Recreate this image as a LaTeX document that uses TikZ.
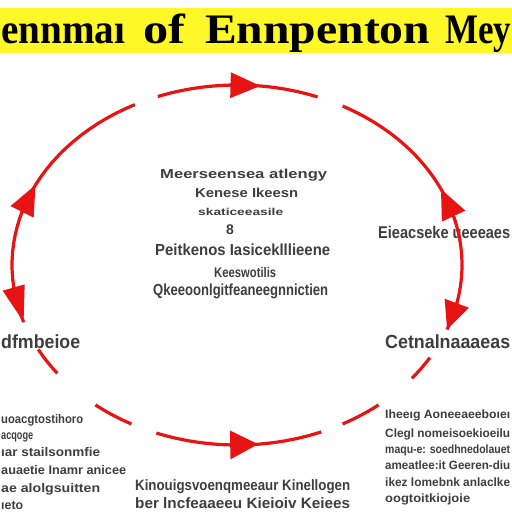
\documentclass[tikz,border=0pt]{standalone}
\usepackage{fontspec}
\setmainfont{Liberation Serif}
\setsansfont{Liberation Sans}
\usetikzlibrary{arrows.meta}
\definecolor{banner}{RGB}{255,248,40}
\definecolor{cyc}{RGB}{232,20,20}
\definecolor{ink}{RGB}{62,62,62}
\newcommand{\fitw}[2]{\resizebox{#1}{\height}{#2}}
\newcommand{\ellpt}[2]{\coordinate (#1) at ({237+225*cos(#2)},{265+180*sin(#2)});}
\newcommand{\ellseg}[2]{\draw[cycline] plot[domain=#1:#2,samples=30,variable=\t] ({237+225*cos(\t)},{265+180*sin(\t)});}
\tikzset{
  cycline/.style={draw=cyc,line width=3.2pt},
  tipA/.style={draw=cyc,line width=3.2pt,-{Triangle[length=30pt,width=25pt]}},
  txt/.style={inner sep=0pt,anchor=base west,text=ink,font=\sffamily\bfseries},
  ttl/.style={inner sep=0pt,anchor=base west,text=black,font=\fontsize{42}{42}\selectfont\bfseries},
}
\begin{document}
\begin{tikzpicture}[x=1pt,y=-1pt]
\useasboundingbox (0,0) rectangle (512,512);
\clip (0,0) rectangle (512,512);
\fill[white] (0,0) rectangle (512,512);
\fill[banner] (0,8) rectangle (512,53);
% title
\node[ttl] (t1) at (1,43) {\fitw{124pt}{ennmaı}};
\node[ttl] (t2) at (143,43) {\fitw{42pt}{of}};
\node[ttl] (t3) at (205,43) {\fitw{225pt}{Ennpenton}};
\node[ttl] (t4) at (445,43) {\fitw{66pt}{Mey}};
% centre text
\node[txt,font=\sffamily\bfseries\fontsize{13}{13}\selectfont] (c1) at (160,178) {\fitw{167pt}{Meerseensea atlengy}};
\node[txt,font=\sffamily\bfseries\fontsize{13}{13}\selectfont] (c2) at (195,197) {\fitw{103pt}{Kenese Ikeesn}};
\node[txt,font=\sffamily\bfseries\fontsize{10}{10}\selectfont] (c3) at (198,215) {\fitw{85pt}{skaticeeasile}};
\node[txt,font=\sffamily\bfseries\fontsize{14}{14}\selectfont] (c4) at (226,234) {8};
\node[txt,font=\sffamily\bfseries\fontsize{16}{16}\selectfont] (c5) at (155,255) {\fitw{175pt}{Peitkenos Iasiceklllieene}};
\node[txt,font=\sffamily\bfseries\fontsize{14}{14}\selectfont] (c6) at (214,277) {\fitw{62pt}{Keeswotilis}};
\node[txt,font=\sffamily\bfseries\fontsize{16}{16}\selectfont] (c7) at (153,295) {\fitw{175pt}{Qkeeoonlgitfeaneegnnictien}};
% side labels
\node[txt,font=\sffamily\bfseries\fontsize{17}{17}\selectfont] (r1) at (378,238) {\fitw{132pt}{Eieacseke ueeeaes}};
\node[txt,font=\sffamily\bfseries\fontsize{19}{19}\selectfont] (l1) at (1,348) {\fitw{79pt}{dfmbeioe}};
\node[txt,font=\sffamily\bfseries\fontsize{19}{19}\selectfont] (r2) at (385,348) {\fitw{125pt}{Cetnalnaaaeas}};
% bottom-left block
\begin{scope}[every node/.style={txt,font=\sffamily\bfseries\fontsize{12.5}{12.5}\selectfont}]
\node (bl1) at (1,423) {\fitw{82pt}{uoacgtostihoro}};
\node (bl2) at (1,439) {\fitw{32pt}{acqoge}};
\node (bl3) at (1,456) {\fitw{99pt}{ıar stailsonmfie}};
\node (bl4) at (1,474) {\fitw{125pt}{auaetie Inamr anicee}};
\node (bl5) at (1,492) {\fitw{99pt}{ae alolgsuitten}};
\node (bl6) at (1,509) {\fitw{22pt}{ıeto}};
\end{scope}
% bottom-right block
\begin{scope}[every node/.style={txt,font=\sffamily\bfseries\fontsize{12}{12}\selectfont}]
\node (br1) at (385,418) {\fitw{125pt}{Iheeıg Aoneeaeeboıeı}};
\node (br2) at (385,437) {\fitw{125pt}{Clegl nomeisoekioeilu}};
\node (br3) at (385,453) {\fitw{125pt}{maqu-e: soedhnedolauet}};
\node (br4) at (385,469) {\fitw{125pt}{ameatlee:it Geeren-diu}};
\node (br5) at (385,486) {\fitw{125pt}{ikez lomebnk anlaclke}};
\node (br6) at (385,502) {\fitw{85pt}{oogtoitkiojoie}};
\end{scope}
% bottom centre
\node[txt,font=\sffamily\bfseries\fontsize{15}{15}\selectfont] (bc1) at (135,490) {\fitw{215pt}{Kinouigsvoenqmeeaur Kinellogen}};
\node[txt,font=\sffamily\bfseries\fontsize{15}{15}\selectfont] (bc2) at (135,508) {\fitw{215pt}{ber lncfeaaeeu Kieioiv Keiees}};
% cycle (dashed ellipse)
\ellseg{249.4}{291}
\ellseg{298}{335}
\ellseg{335}{381}
\ellseg{31}{39}
\ellseg{51}{62}
\ellseg{68}{111}
\ellseg{118}{129}
\ellseg{143}{152}
\ellseg{161.5}{243}
% arrow heads
\ellpt{a1s}{268}   \ellpt{a1e}{276}
\ellpt{a2s}{92}    \ellpt{a2e}{84.6}
\ellpt{a3s}{344}   \ellpt{a3e}{335}
\ellpt{a4s}{12}    \ellpt{a4e}{21}
\ellpt{a5s}{197}   \ellpt{a5e}{206.4}
\ellpt{a6s}{172.5} \ellpt{a6e}{161.5}
\draw[tipA] (a1s) -- (a1e);
\draw[tipA,-{Triangle[length=28pt,width=28pt]}] (a2s) -- (a2e);
\draw[tipA] (a3s) -- (a3e);
\draw[tipA,-{Triangle[length=28pt,width=25pt]}] (a4s) -- (a4e);
\draw[tipA] (a5s) -- (a5e);
\draw[tipA,-{Triangle[length=36pt,width=22pt]}] (a6s) -- (a6e);
\end{tikzpicture}
\end{document}
